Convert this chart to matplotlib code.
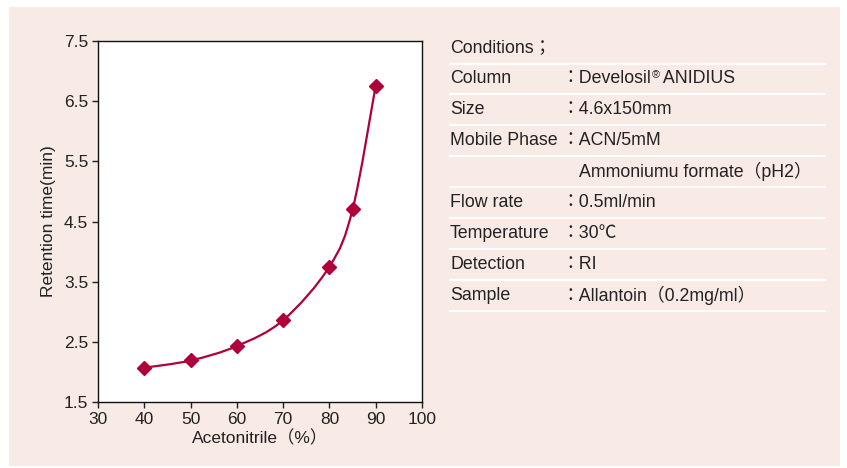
import numpy as np
import matplotlib
matplotlib.use("Agg")
import matplotlib.pyplot as plt
from matplotlib.path import Path
from matplotlib.patches import PathPatch, Rectangle
from matplotlib.lines import Line2D

plt.rcParams['font.family'] = ['Liberation Sans', 'Noto Sans CJK JP', 'DejaVu Sans']

# data
acn_pct = [40, 50, 60, 70, 80, 85, 90]
retention_min = [2.07, 2.19, 2.43, 2.86, 3.75, 4.70, 6.76]

x_ticks = [30, 40, 50, 60, 70, 80, 90, 100]
y_ticks = [1.5, 2.5, 3.5, 4.5, 5.5, 6.5, 7.5]

cond_labels = ["Column", "Size", "Mobile Phase", "", "Flow rate",
               "Temperature", "Detection", "Sample"]
cond_values = ["Develosil\u00ae ANIDIUS", "4.6x150mm", "ACN/5mM",
               "Ammoniumu formate\uff08pH2\uff09", "0.5ml/min", "30\u2103",
               "RI", "Allantoin\uff080.2mg/ml\uff09"]

line_color = "#b0003a"
panel_color = "#f8eae5"
text_color = "#222222"
FS = 12.8


def smooth_path(xs, ys, t=0.5):
    """Catmull-Rom style bezier through points (like Excel smoothed line)"""
    xs = np.asarray(xs, float)
    ys = np.asarray(ys, float)
    verts = [(xs[0], ys[0])]
    codes = [Path.MOVETO]
    n = len(xs)
    for i in range(n - 1):
        i0 = max(i - 1, 0)
        i3 = min(i + 2, n - 1)
        c1 = (xs[i] + (xs[i + 1] - xs[i0]) * t / 3, ys[i] + (ys[i + 1] - ys[i0]) * t / 3)
        c2 = (xs[i + 1] - (xs[i3] - xs[i]) * t / 3, ys[i + 1] - (ys[i3] - ys[i]) * t / 3)
        verts += [c1, c2, (xs[i + 1], ys[i + 1])]
        codes += [Path.CURVE4] * 3
    return Path(verts, codes)


W, H = 847, 468
fig = plt.figure(figsize=(W / 100, H / 100), dpi=100)
fig.patch.set_facecolor("white")
fig.patches.append(Rectangle((9 / W, 2 / H), 831 / W, 459 / H,
                             transform=fig.transFigure, facecolor=panel_color,
                             edgecolor="none", zorder=-5))

ax = fig.add_axes([98 / W, (H - 402) / H, 324 / W, 361 / H])
ax.set_facecolor("white")
ax.add_patch(PathPatch(smooth_path(acn_pct, retention_min), facecolor="none",
                       edgecolor=line_color, lw=1.6, zorder=2))
ax.plot(acn_pct, retention_min, linestyle="none", marker="D", markersize=7,
        color=line_color, zorder=3)
ax.set_xlim(30, 100)
ax.set_ylim(1.5, 7.5)
ax.set_xticks(x_ticks)
ax.set_yticks(y_ticks)
ax.set_yticklabels([f"{v:.1f}" for v in y_ticks])
ax.tick_params(direction="out", length=4, width=1, labelsize=12.5, colors=text_color, pad=3)
for s in ax.spines.values():
    s.set_color("#111111")
    s.set_linewidth(1)
ax.set_xlabel("Acetonitrile\uff08%\uff09", fontsize=12.5, labelpad=2, color=text_color)
ax.set_ylabel("Retention time(min)", fontsize=12.5, labelpad=6, color=text_color)

# conditions table
x_lab, x_col, x_val = 450, 561, 579
row_y = 48
row_h = 30.9
fig.text(x_lab / W, 1 - row_y / H, "Conditions\uff1b", fontsize=FS,
         va="center", color=text_color)
fig.add_artist(Line2D([x_lab / W, 825 / W], [1 - (row_y + 15.5) / H] * 2,
                      color="white", lw=1.5))
renderer = fig.canvas.get_renderer()
for i, (lab, val) in enumerate(zip(cond_labels, cond_values)):
    y = row_y + (i + 1) * row_h
    if lab:
        fig.text(x_lab / W, 1 - y / H, lab, fontsize=FS, va="center", color=text_color)
        if "\u00ae" in val:
            # registered mark drawn small and raised
            head, tail = val.split("\u00ae")
            t1 = fig.text(x_col / W, 1 - y / H, "\uff1a" + head, fontsize=FS,
                          va="center", color=text_color)
            x1 = t1.get_window_extent(renderer).x1
            t2 = fig.text((x1 + 0.5) / W, 1 - (y - 4) / H, "\u00ae", fontsize=FS * 0.62,
                          va="center", color=text_color)
            x2 = t2.get_window_extent(renderer).x1
            fig.text(x2 / W, 1 - y / H, tail, fontsize=FS, va="center", color=text_color)
        else:
            fig.text(x_col / W, 1 - y / H, "\uff1a" + val, fontsize=FS, va="center",
                     color=text_color)
    else:
        fig.text(x_val / W, 1 - y / H, val, fontsize=FS, va="center", color=text_color)
    fig.add_artist(Line2D([x_lab / W, 825 / W], [1 - (y + 15.5) / H] * 2,
                          color="white", lw=1.5))

fig.savefig("out.png", dpi=100, facecolor=fig.get_facecolor())
